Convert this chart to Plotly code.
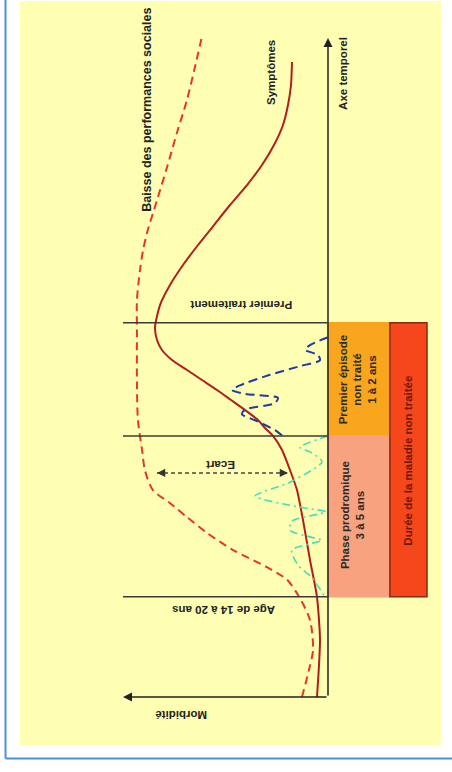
import plotly.graph_objects as go

# ---------------- data (conceptual units: time upward, morbidity leftward) ----------------
symptoms_t = [0, 8.65, 15.17, 20.79, 26.86, 31.41, 34.45, 37.48, 39.61, 40.82, 42.03, 43.55,
              45.07, 46.59, 48.10, 49.62, 51.14, 52.66, 54.17, 56.15, 59.48, 62.52, 65.55,
              68.59, 71.62, 74.66, 77.69, 80.73, 83.76, 86.80, 89.83, 92.87, 96.36]
symptoms_m = [5.37, 3.90, 5.37, 8.78, 12.20, 15.12, 18.54, 22.44, 26.83, 30.73, 34.15, 40.49,
              47.32, 54.15, 61.46, 68.78, 76.10, 80.98, 83.41, 84.39, 81.95, 77.07, 70.73,
              63.41, 55.61, 47.80, 39.51, 32.20, 26.34, 21.95, 19.51, 18.05, 17.56]

social_t = [0, 4.1, 7.1, 11.7, 15.2, 17.8, 19.7, 22.3, 24.9, 27.3, 29.4, 31.4, 34.4, 37.5,
            42.0, 47.6, 55.7, 60.2, 64.8, 67.8, 70.4, 75.4, 80.4, 85.6, 90.6, 95.6, 100.2]
social_m = [12.7, 9.3, 7.3, 8.8, 14.1, 20.0, 29.8, 46.3, 59.0, 68.8, 77.0, 85.4, 89.3, 90.7,
            92.7, 93.2, 93.2, 93.2, 91.7, 90.2, 88.3, 83.4, 78.5, 73.7, 68.8, 64.9, 61.5]

episode_t = [54.6, 53.4, 52.7, 51.9, 51.1, 50.2, 48.9, 47.3, 46.6, 46.0, 45.4, 44.6, 43.6,
             42.9, 42.0, 40.5, 39.6]
episode_m = [0, 8.8, 11.2, 4.9, 3.9, 13.7, 28.3, 42.9, 46.8, 40.5, 24.4, 25.9, 40.5,
             42.0, 35.6, 25.9, 22.0]

prodrome_t = [39.6, 37.9, 37.2, 35.7, 32.6, 30.5, 28.8, 28.1, 26.7, 25.3, 24.3, 23.8,
              22.3, 20.0, 18.1, 15.2]
prodrome_m = [0, 13.7, 8.8, 2.9, 18.5, 35.6, 13.7, 1.0, 17.6, 18.5, 8.8, 2.9,
              17.6, 14.6, 7.8, 1.5]

# phase boundaries on the time axis
t_age, t_episode, t_treatment = 15.2, 39.6, 56.8
axis_m_max, axis_t_max = 100, 100

# "Ecart" gap
ecart_t = 34.0
ecart_m = [83.4, 19.5]

# boxes
boxes_m0 = [0, 0, -30.2]
boxes_m1 = [-29.8, -29.8, -48.3]
boxes_t0 = [t_episode, t_age, t_age]
boxes_t1 = [t_treatment, t_episode, t_treatment]
boxes_fill = ["#F9A51D", "#F8A27F", "#F5461C"]
boxes_line = ["#F9A51D", "#F8A27F", "#8A2A10"]
boxes_text = ["Premier épisode<br>non traité<br>1 à 2 ans",
              "Phase prodromique<br>3 à 5 ans",
              "Durée de la maladie non traitée"]
boxes_text_m = [-14.6, -11.7, -39.3]
boxes_text_t = [48.2, 27.6, 35.8]
boxes_text_col = ["#2a2a2a", "#2a2a2a", "#6e1a08"]

# free labels
labels = ["Baisse des performances sociales", "Symptômes", "Axe temporel",
          "Premier traitement", "Age de 14 à 20 ans", "Morbidité", "Ecart"]
labels_m = [88.3, 27.8, -7.3, 42.4, 50.7, 71.7, 52.7]
labels_t = [89.1, 94.7, 94.7, 59.6, 13.2, -2.7, 35.2]
labels_angle = [-90, -90, -90, 180, 180, 180, 180]
labels_size = [12.5, 11.5, 11.5, 11.5, 11.5, 11.5, 11.5]

FONT = "Liberation Sans Narrow, Arial Narrow, Liberation Sans, Arial, sans-serif"
W, H = 452, 772

fig = go.Figure()

fig.add_trace(go.Scatter(x=social_m, y=social_t, mode="lines",
                         line=dict(color="#E8352B", width=2, dash="8px,5px", shape="spline", smoothing=0.8),
                         hoverinfo="skip"))
fig.add_trace(go.Scatter(x=symptoms_m, y=symptoms_t, mode="lines",
                         line=dict(color="#B01E1E", width=2, shape="spline", smoothing=0.6),
                         hoverinfo="skip"))
fig.add_trace(go.Scatter(x=episode_m, y=episode_t, mode="lines",
                         line=dict(color="#1E3BA6", width=2, dash="9px,5px", shape="spline", smoothing=0.7),
                         hoverinfo="skip"))
fig.add_trace(go.Scatter(x=prodrome_m, y=prodrome_t, mode="lines",
                         line=dict(color="#44DDBB", width=1.6, dash="8px,4px,2px,4px", shape="spline", smoothing=0.7),
                         hoverinfo="skip"))
fig.add_trace(go.Scatter(x=ecart_m, y=[ecart_t, ecart_t], mode="lines",
                         line=dict(color="#444444", width=1.5, dash="4px,3px"), hoverinfo="skip"))

shapes = []
shapes.append(dict(type="rect", xref="paper", yref="paper", x0=20 / W, x1=441 / W,
                   y0=1 - 745 / H, y1=1 - 1 / H, fillcolor="#FFFFB3", line=dict(width=0), layer="below"))
shapes.append(dict(type="line", xref="paper", yref="paper", x0=5.5 / W, x1=5.5 / W,
                   y0=1 - 758.5 / H, y1=1, line=dict(color="#4A90DA", width=2)))
shapes.append(dict(type="line", xref="paper", yref="paper", x0=5.5 / W, x1=1,
                   y0=1 - 758.5 / H, y1=1 - 758.5 / H, line=dict(color="#4A90DA", width=2)))
for tb in [t_age, t_episode, t_treatment]:
    shapes.append(dict(type="line", xref="x", yref="y", x0=0, x1=axis_m_max, y0=tb, y1=tb,
                       line=dict(color="#3a3a3a", width=1.5)))
for i in range(3):
    shapes.append(dict(type="rect", xref="x", yref="y", x0=boxes_m0[i], x1=boxes_m1[i],
                       y0=boxes_t0[i], y1=boxes_t1[i], fillcolor=boxes_fill[i],
                       line=dict(color=boxes_line[i], width=1.5)))
fig.update_layout(shapes=shapes)

ann = []
ann.append(dict(x=0, y=axis_t_max, ax=0, ay=0, xref="x", yref="y", axref="x", ayref="y",
                showarrow=True, arrowhead=2, arrowsize=1.2, arrowwidth=1.5, arrowcolor="#222222",
                text="", standoff=0, startstandoff=0))
ann.append(dict(x=axis_m_max, y=0, ax=0, ay=0, xref="x", yref="y", axref="x", ayref="y",
                showarrow=True, arrowhead=2, arrowsize=1.2, arrowwidth=1.5, arrowcolor="#222222",
                text="", standoff=0, startstandoff=0))
ann.append(dict(x=ecart_m[0], y=ecart_t, ax=ecart_m[0] - 4, ay=ecart_t, xref="x", yref="y",
                axref="x", ayref="y", showarrow=True, arrowhead=2, arrowsize=1.1, arrowwidth=1.5,
                arrowcolor="#333333", text="", standoff=0))
ann.append(dict(x=ecart_m[1], y=ecart_t, ax=ecart_m[1] + 4, ay=ecart_t, xref="x", yref="y",
                axref="x", ayref="y", showarrow=True, arrowhead=2, arrowsize=1.1, arrowwidth=1.5,
                arrowcolor="#333333", text="", standoff=0))
for txt, m, t, a, s in zip(labels, labels_m, labels_t, labels_angle, labels_size):
    ann.append(dict(x=m, y=t, xref="x", yref="y", text="<b>" + txt + "</b>", showarrow=False,
                    textangle=a, font=dict(family=FONT, size=s, color="#222222")))
for txt, m, t, c in zip(boxes_text, boxes_text_m, boxes_text_t, boxes_text_col):
    ann.append(dict(x=m, y=t, xref="x", yref="y", text="<b>" + txt + "</b>", showarrow=False,
                    textangle=-90, font=dict(family=FONT, size=11.5, color=c)))
fig.update_layout(annotations=ann)

fig.update_layout(
    width=W, height=H, margin=dict(l=0, r=0, t=0, b=0),
    paper_bgcolor="white", plot_bgcolor="white", showlegend=False,
    xaxis=dict(range=[160.0, -60.49], visible=False, showgrid=False, zeroline=False),
    yaxis=dict(range=[-11.38, 105.77], visible=False, showgrid=False, zeroline=False),
)

fig.write_html("out.html", config={"displayModeBar": False},
               post_script="document.body.style.margin='0px';document.body.style.overflow='hidden';")
